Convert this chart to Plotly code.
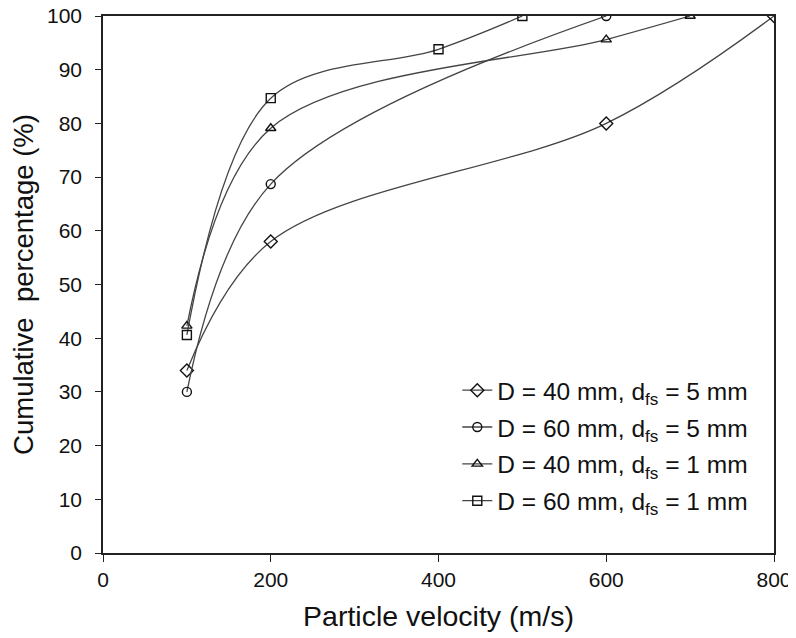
import plotly.graph_objects as go

# Data
x_d40_f5 = [100, 200, 600, 800]
y_d40_f5 = [34, 58, 80, 100]

x_d60_f5 = [100, 200, 600]
y_d60_f5 = [30, 68.7, 100]

x_d40_f1 = [100, 200, 600, 700]
y_d40_f1 = [42.3, 79.1, 95.6, 100]

x_d60_f1 = [100, 200, 400, 500]
y_d60_f1 = [40.6, 84.7, 93.8, 100]

names = [
    "D = 40 mm, d<sub>fs</sub> = 5 mm",
    "D = 60 mm, d<sub>fs</sub> = 5 mm",
    "D = 40 mm, d<sub>fs</sub> = 1 mm",
    "D = 60 mm, d<sub>fs</sub> = 1 mm",
]
symbols = ["diamond-open", "circle-open", "triangle-up-open", "square-open"]
sizes = [10, 9, 9, 9]

x_ticks = [0, 200, 400, 600, 800]
y_ticks = list(range(0, 101, 10))

FONT = "Liberation Sans, Arial, sans-serif"
series = [(x_d40_f5, y_d40_f5), (x_d60_f5, y_d60_f5), (x_d40_f1, y_d40_f1), (x_d60_f1, y_d60_f1)]

fig = go.Figure()
for i, ((xs, ys), name, sym, sz) in enumerate(zip(series, names, symbols, sizes)):
    fig.add_trace(go.Scatter(
        x=xs, y=ys, name=name, mode="lines+markers",
        line=dict(color="#444444", width=1.3, shape="spline", smoothing=1),
        marker=dict(symbol=sym, size=sz, color="#111111", line=dict(width=1.4, color="#111111")),
        legendgroup=f"g{i}",
    ))

fig.update_layout(
    width=796, height=638,
    margin=dict(l=95, r=30, t=8, b=93),
    paper_bgcolor="white", plot_bgcolor="white",
    font=dict(family=FONT, size=20, color="#111111"),
    showlegend=True,
    legend=dict(
        x=0.528, y=0.345, xanchor="left", yanchor="top",
        bgcolor="rgba(0,0,0,0)", font=dict(size=24.5),
        tracegroupgap=2, traceorder="grouped",
    ),
    xaxis=dict(
        range=[0, 800], tickmode="array", tickvals=x_ticks, automargin=False,
        showgrid=False, zeroline=False, showline=True, linecolor="#222222", linewidth=1.5,
        mirror=True, ticks="outside", ticklen=7, tickcolor="#222222", tickwidth=1.3,
        tickfont=dict(size=21), ticklabeloverflow="allow",
        title=dict(text="Particle velocity (m/s)", font=dict(size=28.5), standoff=16),
    ),
    yaxis=dict(
        range=[0, 100], tickmode="array", tickvals=y_ticks, automargin=False,
        showgrid=False, zeroline=False, showline=True, linecolor="#222222", linewidth=1.5,
        mirror=True, ticks="outside", ticklen=6, tickcolor="#222222", tickwidth=1.3,
        tickfont=dict(size=21), ticklabelstandoff=9, ticklabeloverflow="allow",
        title=dict(text="Cumulative  percentage (%)", font=dict(size=27.5), standoff=19),
    ),
)

fig.write_html("out.html")
